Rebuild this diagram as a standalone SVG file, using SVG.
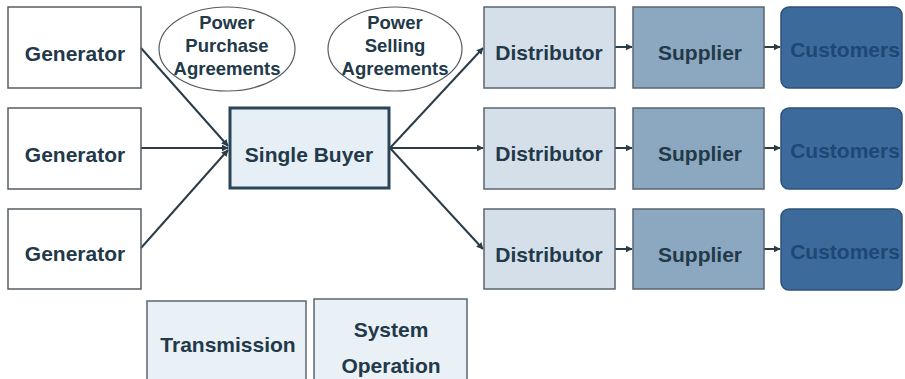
<svg xmlns="http://www.w3.org/2000/svg" width="905" height="379" viewBox="0 0 905 379">
<style>
text{font-family:"Liberation Sans",Arial,sans-serif;font-weight:bold;text-anchor:middle;fill:#22394a}
.big{font-size:21px}
.small{font-size:18.5px}
.gen{fill:#ffffff;stroke:#555d63;stroke-width:1.5}
.dist{fill:#d4dfe9;stroke:#5a6670;stroke-width:1.5}
.sup{fill:#8ca8c0;stroke:#5a6670;stroke-width:1.5}
.cust{fill:#3c6a9b;stroke:#2e5278;stroke-width:1.5}
.ctext{fill:#1d4775}
.light{fill:#eaf1f6;stroke:#5a6670;stroke-width:1.5}
.oval{fill:#ffffff;stroke:#555d63;stroke-width:1.2}
.conn{stroke:#2b3c47;stroke-width:2;fill:none}
</style>
<defs>
<marker id="ah" viewBox="0 0 10 10" refX="9" refY="5" markerWidth="3.5" markerHeight="3.5" orient="auto">
<path d="M0,0 L10,5 L0,10 z" fill="#2b3c47"/>
</marker>
</defs>
<rect width="905" height="379" fill="#ffffff"/>

<g id="connectors">
<line class="conn" x1="141" y1="48" x2="228" y2="146" marker-end="url(#ah)"/>
<line class="conn" x1="141" y1="148" x2="228" y2="148" marker-end="url(#ah)"/>
<line class="conn" x1="141" y1="248" x2="228" y2="150" marker-end="url(#ah)"/>
<line class="conn" x1="390" y1="148" x2="483" y2="48" marker-end="url(#ah)"/>
<line class="conn" x1="390" y1="148" x2="483" y2="148" marker-end="url(#ah)"/>
<line class="conn" x1="390" y1="148" x2="483" y2="249" marker-end="url(#ah)"/>
<line class="conn" x1="615" y1="47" x2="632" y2="47" marker-end="url(#ah)"/>
<line class="conn" x1="615" y1="148" x2="632" y2="148" marker-end="url(#ah)"/>
<line class="conn" x1="615" y1="249" x2="632" y2="249" marker-end="url(#ah)"/>
<line class="conn" x1="764" y1="47" x2="780" y2="47" marker-end="url(#ah)"/>
<line class="conn" x1="764" y1="148" x2="780" y2="148" marker-end="url(#ah)"/>
<line class="conn" x1="764" y1="249" x2="780" y2="249" marker-end="url(#ah)"/>
</g>

<g id="gen1"><rect class="gen" x="8" y="7" width="133" height="81"/><text class="big" x="75" y="61">Generator</text></g>
<g id="gen2"><rect class="gen" x="8" y="108" width="133" height="81"/><text class="big" x="75" y="162">Generator</text></g>
<g id="gen3"><rect class="gen" x="8" y="209" width="133" height="80"/><text class="big" x="75" y="261">Generator</text></g>

<g id="ppa"><ellipse class="oval" cx="227" cy="49" rx="68" ry="42"/>
<text class="small" x="227" y="29">Power</text><text class="small" x="227" y="52">Purchase</text><text class="small" x="227" y="75">Agreements</text></g>
<g id="psa"><ellipse class="oval" cx="395" cy="49" rx="67" ry="42"/>
<text class="small" x="395" y="29">Power</text><text class="small" x="395" y="52">Selling</text><text class="small" x="395" y="75">Agreements</text></g>

<g id="buyer"><rect x="230" y="108" width="159" height="80" fill="#e7eff6" stroke="#2a4556" stroke-width="3"/><text class="big" x="309" y="162">Single Buyer</text></g>

<g id="dist1"><rect class="dist" x="484" y="7" width="131" height="81"/><text class="big" x="549" y="60">Distributor</text></g>
<g id="dist2"><rect class="dist" x="484" y="108" width="131" height="81"/><text class="big" x="549" y="161">Distributor</text></g>
<g id="dist3"><rect class="dist" x="484" y="209" width="131" height="80"/><text class="big" x="549" y="262">Distributor</text></g>

<g id="sup1"><rect class="sup" x="633" y="7" width="131" height="81"/><text class="big" x="700" y="60">Supplier</text></g>
<g id="sup2"><rect class="sup" x="633" y="108" width="131" height="81"/><text class="big" x="700" y="161">Supplier</text></g>
<g id="sup3"><rect class="sup" x="633" y="209" width="131" height="80"/><text class="big" x="700" y="262">Supplier</text></g>

<g id="cust1"><rect class="cust" x="781" y="7" width="121" height="81" rx="8"/><text class="big ctext" x="845" y="57">Customers</text></g>
<g id="cust2"><rect class="cust" x="781" y="108" width="121" height="81" rx="8"/><text class="big ctext" x="845" y="158">Customers</text></g>
<g id="cust3"><rect class="cust" x="781" y="209" width="121" height="81" rx="8"/><text class="big ctext" x="845" y="259">Customers</text></g>

<g id="trans"><rect class="light" x="147" y="301" width="159" height="90"/><text class="big" x="228" y="352">Transmission</text></g>
<g id="sysop"><rect class="light" x="314" y="299" width="153" height="92"/><text class="big" x="391" y="337">System</text><text class="big" x="391" y="373">Operation</text></g>
</svg>
